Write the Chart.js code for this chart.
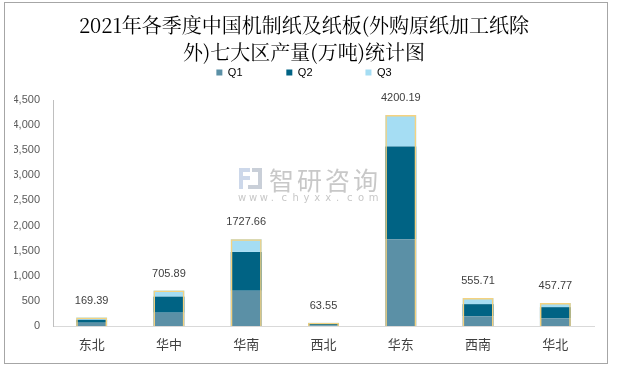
<!DOCTYPE html>
<html><head><meta charset="utf-8">
<script src="https://cdn.jsdelivr.net/npm/chart.js@4.4.1/dist/chart.umd.min.js"></script>
<style>
html,body{margin:0;padding:0;background:#fff;}
#wrap{position:relative;width:617px;height:369px;}
#frame{position:absolute;left:4px;top:2px;width:602px;height:360px;border:1px solid #a6a6a6;pointer-events:none;}
canvas{position:absolute;left:0;top:0;}
</style></head><body>
<div id="wrap"><canvas id="c" width="617" height="369"></canvas><div id="frame"></div></div>
<script>
const categories = ['东北', '华中', '华南', '西北', '华东', '西南', '华北'];
const q1 = [65, 265, 700, 12, 1727, 195, 150];
const q2 = [58, 320, 775, 42, 1845, 240, 225];
const q3 = [46.39, 120.89, 252.66, 9.55, 628.19, 120.71, 82.77];
const totals = [169.39, 705.89, 1727.66, 63.55, 4200.19, 555.71, 457.77];
const seriesNames = ['Q1', 'Q2', 'Q3'];
const yMax = 4500;
const yStep = 500;
const titleLines = ['2021年各季度中国机制纸及纸板(外购原纸加工纸除', '外)七大区产量(万吨)统计图'];

const COLORS = ['#5B90A6', '#006384', '#A5DDF3'];
const legendPad = [14, 17, 0];

const totalLabelPlugin = {
  id: 'totalLabels',
  afterDatasetsDraw(chart) {
    const ctx = chart.ctx;
    const meta = chart.getDatasetMeta(3);
    ctx.save();
    ctx.font = '11px "Liberation Sans", Arial, sans-serif';
    ctx.fillStyle = '#404040';
    ctx.textAlign = 'center';
    ctx.textBaseline = 'middle';
    meta.data.forEach((el, i) => {
      ctx.fillText(totals[i].toFixed(2), el.x, el.y - 17);
    });
    ctx.restore();
  }
};

const watermarkPlugin = {
  id: 'watermark',
  beforeDatasetsDraw(chart) {
    const ctx = chart.ctx;
    ctx.save();
    ctx.fillStyle = '#cdd8ea';
    ctx.fillRect(239, 168, 11, 4);
    ctx.fillRect(239, 168, 4, 21);
    ctx.fillRect(239, 176, 11, 4);
    ctx.fillStyle = '#c9cfd8';
    ctx.fillRect(252, 168, 10, 4);
    ctx.fillRect(258, 168, 4, 21);
    ctx.fillRect(248, 185, 14, 4);
    ctx.fillStyle = '#c8c8c8';
    ctx.font = '25px "Noto Sans CJK SC", sans-serif';
    ctx.textBaseline = 'middle';
    ctx.textAlign = 'left';
    const wm = '智研咨询';
    for (let i = 0; i < wm.length; i++) {
      ctx.fillText(wm[i], 269 + i * 28, 180);
    }
    ctx.font = '10px "DejaVu Sans", sans-serif';
    const url = 'www.chyxx.com';
    for (let i = 0; i < url.length; i++) {
      ctx.fillText(url[i], 238 + i * 10.9, 198);
    }
    ctx.restore();
  }
};

const datasets = seriesNames.map((name, k) => ({
  label: name,
  data: [q1, q2, q3][k],
  backgroundColor: COLORS[k],
  borderWidth: 0,
  stack: 'q',
  grouped: false,
  barPercentage: 0.4,
  categoryPercentage: 1.0
}));
datasets.push({
  label: 'total',
  data: totals,
  backgroundColor: 'rgba(0,0,0,0)',
  borderColor: '#F5D27F',
  borderWidth: 1.5,
  borderSkipped: 'bottom',
  stack: 'total',
  grouped: false,
  order: -1,
  barPercentage: 0.4,
  categoryPercentage: 1.0
});

new Chart(document.getElementById('c'), {
  type: 'bar',
  data: { labels: categories, datasets },
  plugins: [watermarkPlugin, totalLabelPlugin],
  options: {
    responsive: false,
    animation: false,
    events: [],
    layout: { padding: { left: 14, right: 23, top: 0, bottom: 0 } },
    plugins: {
      tooltip: { enabled: false },
      title: {
        display: true,
        text: titleLines,
        color: '#000000',
        font: { family: '"Noto Serif CJK SC", "Noto Sans CJK SC", serif', size: 20, weight: 'normal', lineHeight: '27px' },
        padding: { top: 12, bottom: 0 }
      },
      subtitle: {
        display: true,
        text: '',
        weight: 500,
        font: { size: 1, lineHeight: '12px' },
        padding: 0
      },
      legend: {
        display: true,
        position: 'top',
        labels: {
          boxWidth: 6,
          boxHeight: 6,
          padding: 1,
          color: '#595959',
          font: { family: '"Liberation Sans", Arial, sans-serif', size: 11 },
          generateLabels(chart) {
            return seriesNames.map((name, k) => ({
              text: name + '\u00a0'.repeat(legendPad[k]),
              fillStyle: COLORS[k],
              strokeStyle: COLORS[k],
              lineWidth: 0,
              hidden: false,
              datasetIndex: k
            }));
          }
        }
      }
    },
    scales: {
      x: {
        stacked: true,
        grid: { display: false, drawTicks: false },
        border: { display: true, color: '#d9d9d9', width: 1 },
        ticks: {
          color: '#404040',
          padding: 10,
          font: { family: '"Noto Sans CJK SC", sans-serif', size: 13 }
        },
        afterFit(s) { s.height = 43; }
      },
      y: {
        stacked: true,
        min: 0,
        max: yMax,
        grid: { display: false, drawTicks: false },
        border: { display: true, color: '#bfbfbf', width: 1 },
        ticks: {
          stepSize: yStep,
          padding: 13,
          color: '#595959',
          font: { family: '"Liberation Sans", Arial, sans-serif', size: 11 },
          callback: (v) => Number(v).toLocaleString('en-US')
        },
        afterFit(s) { s.width = 39; }
      }
    }
  }
});
</script>
</body></html>
